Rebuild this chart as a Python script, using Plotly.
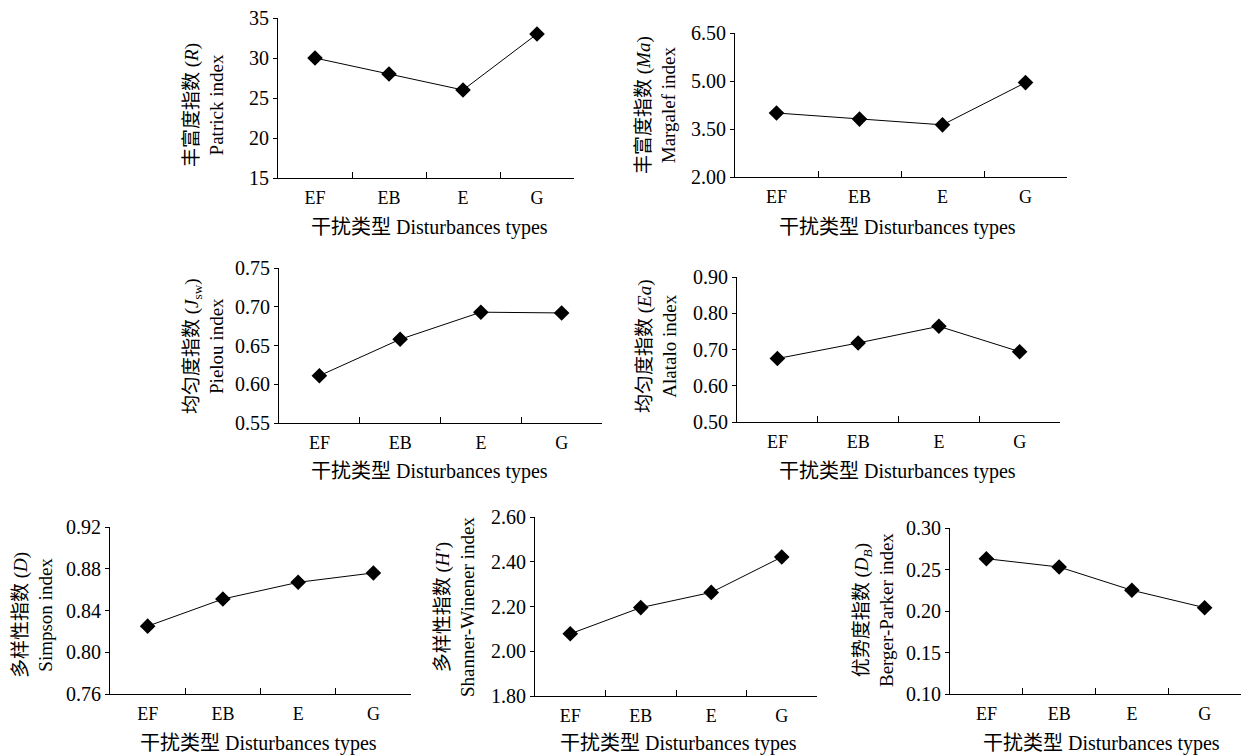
import plotly.graph_objects as go

W, H = 1242, 755

categories = ["EF", "EB", "E", "G"]

patrick = [30, 28, 26, 33]
margalef = [4.00, 3.81, 3.63, 4.95]
pielou = [0.611, 0.658, 0.693, 0.692]
alatalo = [0.675, 0.718, 0.764, 0.694]
simpson = [0.825, 0.851, 0.867, 0.876]
shannon = [2.078, 2.195, 2.263, 2.421]
berger = [0.263, 0.253, 0.225, 0.204]

x_title = "干扰类型 Disturbances types"

panels = [
    dict(y=patrick, title="丰富度指数 (<i>R</i>)<br>Patrick index", rng=[15, 35], dtick=5, fmt="d",
         box=(278, 574, 18, 178), yt=(204, 105), xt=(429, 227)),
    dict(y=margalef, title="丰富度指数 (<i>Ma</i>)<br>Margalef index", rng=[2.0, 6.5], dtick=1.5, fmt=".2f",
         box=(735, 1067, 33, 177), yt=(656, 105), xt=(897, 227)),
    dict(y=pielou, title="均匀度指数 (<i>J</i><sub>sw</sub>)<br>Pielou index", rng=[0.55, 0.75], dtick=0.05, fmt=".2f",
         box=(279, 602, 268, 423), yt=(204, 346), xt=(429, 472)),
    dict(y=alatalo, title="均匀度指数 (<i>Ea</i>)<br>Alatalo index", rng=[0.5, 0.9], dtick=0.1, fmt=".2f",
         box=(737, 1060, 277, 422), yt=(657, 346), xt=(897, 472)),
    dict(y=simpson, title="多样性指数 (<i>D</i>)<br>Simpson index", rng=[0.76, 0.92], dtick=0.04, fmt=".2f",
         box=(110, 411, 527, 694), yt=(33, 615), xt=(258, 743)),
    dict(y=shannon, title="多样性指数 (<i>H′</i>)<br>Shanner-Winener index", rng=[1.8, 2.6], dtick=0.2, fmt=".2f",
         box=(535, 817, 517, 696), yt=(455, 607), xt=(678, 743)),
    dict(y=berger, title="优势度指数 (<i>D</i><sub><i>B</i></sub>)<br>Berger-Parker index", rng=[0.10, 0.30], dtick=0.05, fmt=".2f",
         box=(950, 1241, 528, 694), yt=(874, 610), xt=(1101, 743)),
]

FONT = "Liberation Serif, Times New Roman, Noto Sans CJK SC"

fig = go.Figure()
layout = {}
annotations = []
for i, p in enumerate(panels, start=1):
    xa = "x" if i == 1 else f"x{i}"
    ya = "y" if i == 1 else f"y{i}"
    fig.add_trace(go.Scatter(
        x=categories, y=p["y"], mode="lines+markers",
        line=dict(color="black", width=1),
        marker=dict(symbol="diamond", size=12, color="black"),
        xaxis=xa, yaxis=ya, showlegend=False,
    ))
    x0, x1, y0, y1 = p["box"]
    layout[f"xaxis{i}"] = dict(
        domain=[x0 / W, x1 / W], anchor=ya, type="category",
        range=[-0.5, 3.5], tickson="boundaries", ticks="inside", ticklen=6,
        tickcolor="black", showline=True, linecolor="black", linewidth=1,
        ticklabelstandoff=3,
        showgrid=False, zeroline=False, tickfont=dict(size=18, family=FONT, color="black"),
    )
    layout[f"yaxis{i}"] = dict(
        domain=[1 - y1 / H, 1 - y0 / H], anchor=xa, range=p["rng"],
        dtick=p["dtick"], tick0=p["rng"][0], tickformat=p["fmt"],
        ticks="outside", ticklen=4, tickcolor="black",
        showline=True, linecolor="black", linewidth=1,
        showgrid=False, zeroline=False, tickfont=dict(size=20, family=FONT, color="black"),
    )
    annotations.append(dict(
        text=p["title"], x=p["yt"][0] / W, y=1 - p["yt"][1] / H, xref="paper", yref="paper",
        xanchor="center", yanchor="middle", textangle=-90, showarrow=False,
        font=dict(size=19, family=FONT, color="black"),
    ))
    annotations.append(dict(
        text=x_title, x=p["xt"][0] / W, y=1 - p["xt"][1] / H, xref="paper", yref="paper",
        xanchor="center", yanchor="middle", showarrow=False,
        font=dict(size=20, family=FONT, color="black"),
    ))

fig.update_layout(
    width=W, height=H, margin=dict(l=0, r=0, t=0, b=0, autoexpand=False),
    paper_bgcolor="white", plot_bgcolor="white",
    annotations=annotations, **layout,
)

fig.write_html(
    "out.html",
    config={"displayModeBar": False},
    post_script="document.body.style.margin='0px';document.body.style.overflow='hidden';",
)
